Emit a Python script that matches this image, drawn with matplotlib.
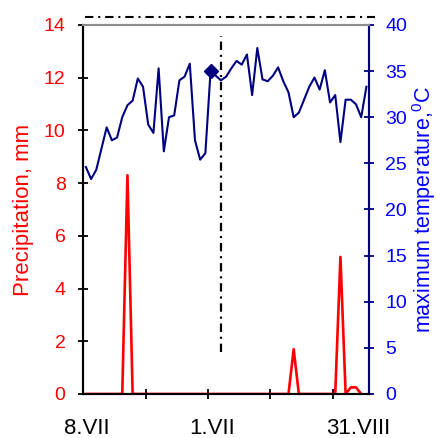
import matplotlib
matplotlib.use("Agg")
import matplotlib.pyplot as plt
import numpy as np

plt.rcParams["font.family"] = ["Liberation Sans", "DejaVu Sans"]
plt.rcParams["mathtext.default"] = "regular"
plt.rcParams["lines.scale_dashes"] = False

# daily series, 8.VII ... 31.VIII
tmax = [24.6, 23.3, 24.3, 26.6, 28.9, 27.5, 27.8, 30.0, 31.3, 31.8,
        34.2, 33.3, 29.2, 28.3, 35.3, 26.3, 30.0, 30.2, 34.0, 34.4,
        35.8, 27.5, 25.4, 26.1, 35.0, 34.5, 34.0, 34.4, 35.3, 36.1,
        35.7, 36.8, 32.4, 37.5, 34.1, 33.9, 34.5, 35.4, 33.9, 32.7,
        30.0, 30.5, 31.9, 33.3, 34.3, 33.0, 35.1, 31.6, 32.4, 27.3,
        31.9, 31.9, 31.4, 30.0, 33.3]
precip = [0, 0, 0, 0, 0, 0, 0, 0, 8.3, 0,
          0, 0, 0, 0, 0, 0, 0, 0, 0, 0,
          0, 0, 0, 0, 0, 0, 0, 0, 0, 0,
          0, 0, 0, 0, 0, 0, 0, 0, 0, 0,
          1.7, 0, 0, 0, 0, 0, 0, 0, 0, 5.2,
          0, 0.25, 0.25, 0]
marked_day = 24          # diamond on 1.VIII
marked_tmax = 35.0
vline_day = 26
vline_range = (1.6, 13.6)
top_level = 14.3

tick_pos = [11.5, 23.5, 35.5, 47.5]
label_pos = [0.2, 24.3, 52.5]
label_txt = ["8.VII", "1.VII", "31.VIII"]

navy = "#000080"
blue = "#0000ff"
red = "#ff0000"

days = np.arange(len(tmax))
fig = plt.figure(figsize=(4.37, 4.38), dpi=100)
ax = fig.add_axes([0.1906, 0.1005, 0.6538, 0.8425])
ax2 = ax.twinx()

ax.plot(days[:len(precip)], precip, color=red, lw=1.9, zorder=3)
ax.set_xlim(-0.5, 54.5)
ax.set_ylim(0, 14)
ax.set_yticks(np.arange(0, 15, 2))
ax.tick_params(axis="y", direction="inout", length=7.5, width=1.3,
               colors="black", labelcolor=red, labelsize=14, pad=9)
ax.set_ylabel("Precipitation, mm", color=red, fontsize=16, labelpad=7)

ax.set_xticks(tick_pos)
ax.set_xticklabels([])
ax.tick_params(axis="x", direction="inout", length=7.5, width=1.3)
ax.set_xticks(label_pos, minor=True)
ax.set_xticklabels(label_txt, minor=True, fontsize=16)
ax.tick_params(axis="x", which="minor", length=0, pad=17)

ax.vlines(vline_day, *vline_range, colors="black", lw=1.6,
          linestyles=[(0, (6, 3.5, 1.5, 3.5))], zorder=2)
ax.axhline(top_level, xmin=0.006, xmax=1.02, color="black", lw=1.5,
           ls=(0, (6, 3.5, 1.5, 3.5)), clip_on=False)

ax2.plot(days, tmax, color=navy, lw=1.5, zorder=3)
ax2.plot([marked_day], [marked_tmax], marker="D", color=navy, ms=7.5, ls="none")
ax2.set_ylim(0, 40)
ax2.set_yticks(np.arange(0, 41, 5))
ax2.tick_params(axis="y", direction="inout", length=7.5, width=1.3,
                colors=navy, labelcolor=blue, labelsize=14, pad=8)
ax2.set_ylabel("maximum temperature,$^0$C", color=blue, fontsize=15.5, labelpad=2)

for a in (ax, ax2):
    a.spines["top"].set_color("#8c8c8c")
    a.spines["left"].set_color("black")
    a.spines["bottom"].set_color("black")
    a.spines["right"].set_color(navy)
    for s in a.spines.values():
        s.set_linewidth(1.5)

fig.savefig("out.png", dpi=100)
